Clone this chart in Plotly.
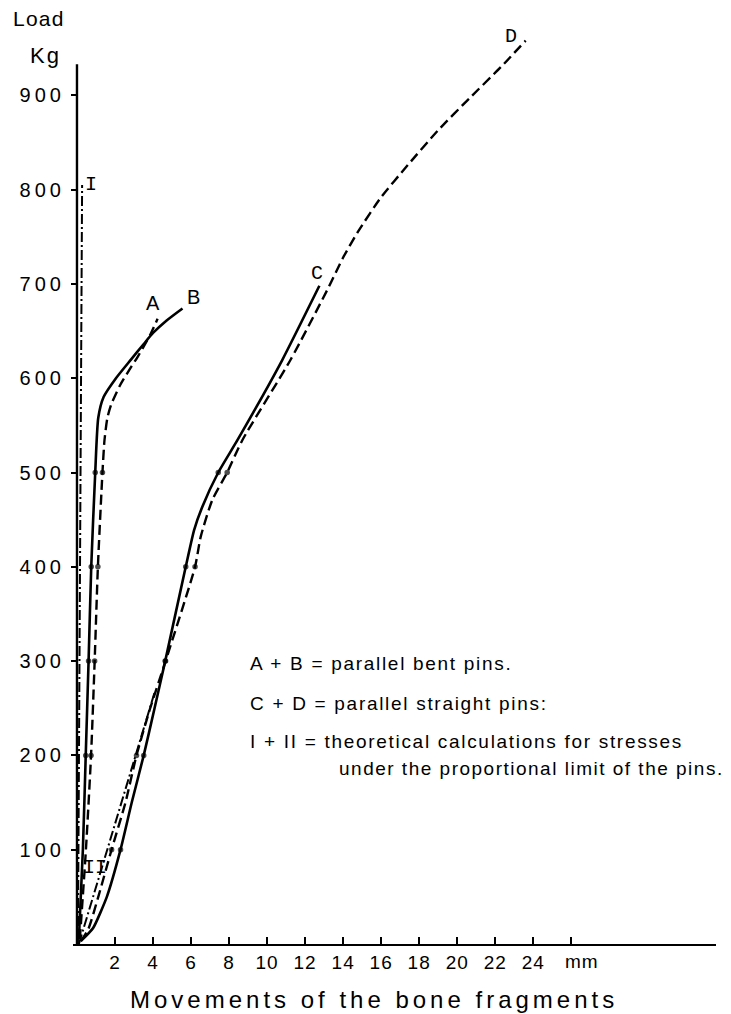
import plotly.graph_objects as go

# ---------------- data ----------------
# Curve B (solid, parallel bent pins)
B_x = [0.1, 0.31, 0.46, 0.61, 0.75, 0.96, 1.12, 1.40, 2.05, 2.85, 3.5, 4.0, 4.7, 5.55]
B_y = [5, 100, 200, 300, 400, 500, 558, 580, 600, 620, 636, 648, 661, 674]
# Curve A (dashed, parallel bent pins)
A_x = [0.15, 0.47, 0.74, 0.93, 1.10, 1.34, 1.45, 1.6, 1.8, 2.28, 2.76, 3.2, 3.55, 3.85, 4.24]
A_y = [5, 100, 200, 300, 400, 500, 535, 558, 572, 593, 609, 623, 635, 646, 663]
# Curve C (solid, parallel straight pins)
C_x = [0.2, 0.85, 1.57, 2.29, 2.88, 3.51, 4.08, 4.64, 5.72, 6.16, 6.6, 7.43, 8.43, 10.79, 12.75]
C_y = [3, 17, 50, 100, 150, 200, 250, 300, 400, 439, 464, 500, 534, 619, 698]
# Curve D (dashed, parallel straight pins)
D_x = [0.2, 0.6, 1.12, 1.82, 2.55, 3.13, 3.85, 4.66, 6.21, 6.51, 7.12, 7.9, 8.69, 11.22,
       13.25, 14.0, 14.8, 16.0, 17.4, 19.0, 20.7, 22.3, 23.6]
D_y = [3, 16, 50, 100, 150, 200, 250, 300, 400, 432, 471, 500, 534, 619,
       697, 728, 756, 792, 826, 863, 898, 930, 958]
# Theoretical lines I and II (dash-dot)
I_x = [0.05, 0.27]
I_y = [0, 805]
II_x = [0.1, 4.1]
II_y = [0, 268]

# loads at which measured points (dots) are marked
AB_dot_loads = [200, 300, 400, 500]
CD_dot_loads = [100, 200, 300, 400, 500]

# axis ticks
x_tickvals = [2, 4, 6, 8, 10, 12, 14, 16, 18, 20, 22, 24, 26]
x_ticktext = ["2", "4", "6", "8", "10", "12", "14", "16", "18", "20", "22", "24", ""]
y_tickvals = [100, 200, 300, 400, 500, 600, 700, 800, 900]
y_ticktext = ["100", "200", "300", "400", "500", "600", "700", "800", "900"]
Y_AXIS_TOP = 933

# text
x_title = "Movements of the bone fragments"
x_unit = "mm"
y_title_1 = "Load"
y_title_2 = "Kg"
legend_lines = [
    "A + B = parallel bent pins.",
    "C + D = parallel straight pins:",
    "I + II = theoretical calculations for stresses",
    "under the proportional limit of the pins.",
]
curve_labels = {"I": (0.73, 805), "II": (0.94, 81), "A": (3.98, 680), "B": (6.13, 686),
                "C": (12.6, 711), "D": (22.85, 962)}

# ---------------- geometry ----------------
OFF = 8                      # page body margin of the html page
W, H = 731 - OFF, 1014 - OFF
ML, MR, MT, MB = 70 - OFF, 15, 25 - OFF, 70
PX_PER_MM = 19.1
PX_PER_KG = 0.943
plot_w = W - ML - MR
plot_h = H - MT - MB
PLOT_LEFT = OFF + ML
PLOT_BOTTOM = OFF + H - MB
x0 = -4 / PX_PER_MM
x_range = [x0, x0 + plot_w / PX_PER_MM]
y_range = [0, plot_h / PX_PER_KG]


def px_to_paper(px, py):
    """screen pixel -> paper coordinates (for text placement)"""
    return (px - PLOT_LEFT) / plot_w, (PLOT_BOTTOM - py) / plot_h


def spaced(txt, sp):
    return "<span style='letter-spacing:%spx'>%s</span>" % (sp, txt)


fig = go.Figure()


def add_curve(x, y, dash, width, dots, smoothing=0.6):
    sizes = [5.5 if v in dots else 0 for v in y]
    fig.add_trace(go.Scatter(
        x=x, y=y, mode="lines+markers",
        line=dict(color="black", width=width, dash=dash, shape="spline", smoothing=smoothing),
        marker=dict(size=sizes, color="black", line=dict(width=0)),
        showlegend=False, hoverinfo="skip"))


DASH = "10px,5px"
DASHDOT = "10px,3px,2px,3px"
add_curve(I_x, I_y, DASHDOT, 2.0, [])
add_curve(II_x, II_y, DASHDOT, 2.0, [])
add_curve(B_x, B_y, "solid", 2.6, AB_dot_loads)
add_curve(A_x, A_y, DASH, 2.4, AB_dot_loads)
add_curve(C_x, C_y, "solid", 2.6, CD_dot_loads, 0.5)
add_curve(D_x, D_y, DASH, 2.4, CD_dot_loads, 0.6)

# vertical axis line (ends below the top of the drawing, as in the original)
fig.add_shape(type="line", xref="x", yref="y", x0=0, x1=0, y0=0, y1=Y_AXIS_TOP,
              line=dict(color="black", width=2.4))

SANS = "Liberation Sans"
MONO = "Liberation Mono"

annotations = []
for lab, (lx, ly) in curve_labels.items():
    fam = SANS if lab in ("A", "B") else MONO
    annotations.append(dict(x=lx, y=ly, xref="x", yref="y", text=lab, showarrow=False,
                            font=dict(family=fam, size=20, color="black"),
                            xanchor="center", yanchor="middle"))

# legend text block
leg_pos = [(246, 663, 1.7), (246, 703, 1.7), (246, 741, 1.7), (335, 768, 1.5)]
for txt, (px, py, sp) in zip(legend_lines, leg_pos):
    ax, ay = px_to_paper(px, py)
    annotations.append(dict(x=ax, y=ay, xref="paper", yref="paper", text=spaced(txt, sp),
                            showarrow=False, font=dict(family=SANS, size=19, color="black"),
                            xanchor="left", yanchor="middle"))

# axis titles
tx, ty = px_to_paper(372, 1000)
annotations.append(dict(x=tx, y=ty, xref="paper", yref="paper", text=spaced(x_title, 4),
                        showarrow=False, font=dict(family=SANS, size=24, color="black"),
                        xanchor="center", yanchor="middle"))
ux, uy = px_to_paper(581, 961)
annotations.append(dict(x=ux, y=uy, xref="paper", yref="paper", text=spaced(x_unit, 1),
                        showarrow=False, font=dict(family=SANS, size=19, color="black"),
                        xanchor="center", yanchor="middle"))
lx1, ly1 = px_to_paper(64, 19)
annotations.append(dict(x=lx1, y=ly1, xref="paper", yref="paper", text=spaced(y_title_1, 1.2),
                        showarrow=False, font=dict(family=SANS, size=21, color="black"),
                        xanchor="right", yanchor="middle"))
lx2, ly2 = px_to_paper(60, 55)
annotations.append(dict(x=lx2, y=ly2, xref="paper", yref="paper", text=spaced(y_title_2, 2),
                        showarrow=False, font=dict(family=SANS, size=22, color="black"),
                        xanchor="right", yanchor="middle"))

fig.update_layout(
    width=W, height=H,
    margin=dict(l=ML, r=MR, t=MT, b=MB, pad=0),
    paper_bgcolor="white", plot_bgcolor="white",
    showlegend=False,
    annotations=annotations,
    xaxis=dict(range=x_range, showgrid=False, zeroline=False, showline=True,
               linecolor="black", linewidth=2.4, ticks="inside", ticklen=7, tickwidth=1.6,
               tickcolor="black", tickvals=x_tickvals,
               ticktext=[spaced(t, 1) for t in x_ticktext],
               tickfont=dict(family=SANS, size=19, color="black"), ticklabelstandoff=0,
               fixedrange=True),
    yaxis=dict(range=y_range, showgrid=False, zeroline=False, showline=False,
               anchor="free", position=4 / plot_w,
               ticks="outside", ticklen=6, tickwidth=1.6, tickcolor="black",
               tickvals=y_tickvals, ticktext=[spaced(t, 4) for t in y_ticktext],
               tickfont=dict(family=SANS, size=20, color="black"), ticklabelstandoff=2,
               fixedrange=True),
)

fig.write_html("out.html")
